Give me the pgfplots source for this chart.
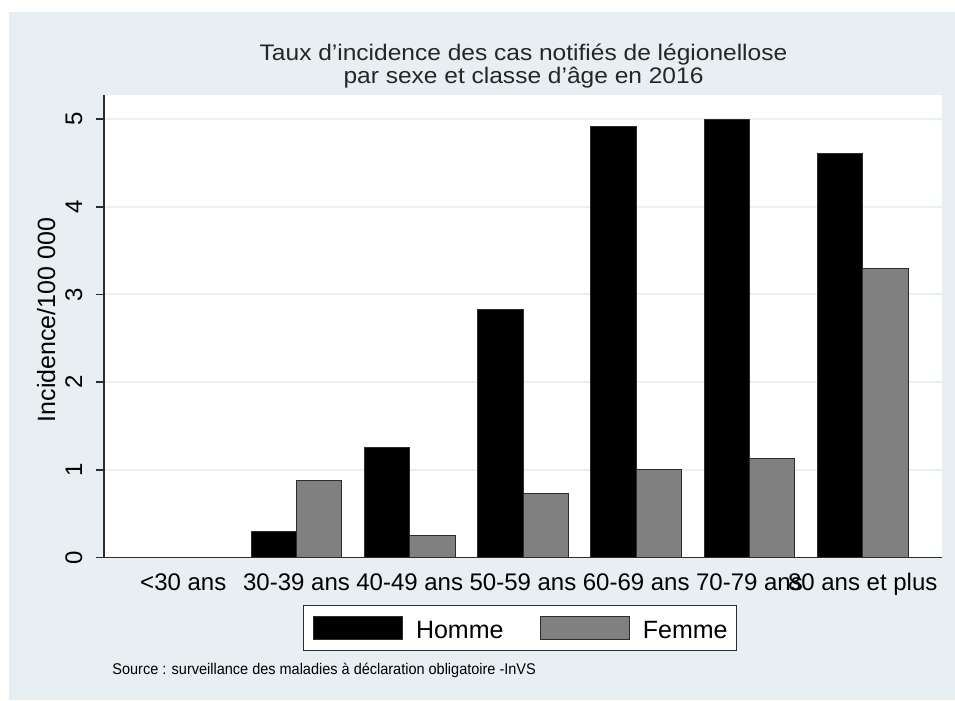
\documentclass[border=0pt]{standalone}
\usepackage{fontspec}
\setmainfont{Liberation Sans}
\usepackage{pgfplots}
\pgfplotsset{compat=1.18}
\definecolor{panel}{RGB}{232,239,242}
\definecolor{gridc}{RGB}{232,240,243}
\definecolor{axisc}{RGB}{45,45,45}
\definecolor{femme}{RGB}{128,128,128}
\begin{document}
\begin{tikzpicture}[x=0.75pt,y=-0.75pt]
\fill[white] (0,0) rectangle (955,700);
\fill[panel] (9,12) rectangle (955,700);
\begin{axis}[
  at={(78pt,-418.125pt)}, anchor=south west,
  scale only axis, width=628.5pt, height=346.875pt,
  xmin=-0.70, xmax=6.70, ymin=0, ymax=5.274,
  axis background/.style={fill=white},
  axis x line*=bottom, axis y line*=left,
  axis line style={axisc, line width=1.2pt},
  ybar=0pt, bar width=34.1pt,
  xtick={0,1,2,3,4,5,6},
  xticklabels={{<30 ans},{30-39 ans},{40-49 ans},{50-59 ans},{60-69 ans},{70-79 ans},{80 ans et plus}},
  xtick style={draw=none},
  ytick={0,1,2,3,4,5},
  tick align=outside, major tick length=6pt,
  ytick style={axisc, line width=1.2pt},
  ymajorgrids, grid style={gridc, line width=1.5pt},
  /pgf/number format/assume math mode=true,
  xticklabel style={font=\fontsize{18}{18}\selectfont, anchor=base, yshift=-19pt},
  yticklabel style={font=\fontsize{18}{18}\selectfont, xshift=-10.5pt, rotate=90, anchor=base},
  legend style={at={(0.2375,-0.1027)}, anchor=north west, draw=axisc, line width=1pt, fill=white,
    inner xsep=6.75pt, inner ysep=7.5pt, legend columns=2,
    font=\fontsize{18.75}{18.75}\selectfont, nodes={inner sep=0pt},
    /tikz/every odd column/.append style={column sep=10pt},
    /tikz/every even column/.append style={column sep=27pt}},
  legend image code/.code={\draw[#1, line width=0.75pt] (0pt,-6.4pt) rectangle (66.75pt,10.85pt);},
]
\addplot[fill=black, draw=axisc, line width=0.75pt] coordinates {(0,0) (1,0.30) (2,1.25) (3,2.83) (4,4.91) (5,5.00) (6,4.61)};
\addplot[fill=femme, draw=axisc, line width=0.75pt] coordinates {(0,0) (1,0.88) (2,0.25) (3,0.73) (4,1.00) (5,1.13) (6,3.30)};
\legend{Homme, Femme}
\end{axis}
\node[anchor=base, xscale=1.09, font=\fontsize{16.875}{16.875}\selectfont, text=black!85] at (523.5,60) {Taux d'incidence des cas notifiés de légionellose};
\node[anchor=base, xscale=1.09, font=\fontsize{16.875}{16.875}\selectfont, text=black!85] at (523.5,83.5) {par sexe et classe d'âge en 2016};
\node[anchor=base, rotate=90, font=\fontsize{18.75}{18.75}\selectfont] at (55,320) {Incidence/100 000};
\node[anchor=base west, xscale=0.935, font=\fontsize{11.625}{11.625}\selectfont] at (108,674) {Source : surveillance des maladies à déclaration obligatoire -InVS};
\end{tikzpicture}
\end{document}
